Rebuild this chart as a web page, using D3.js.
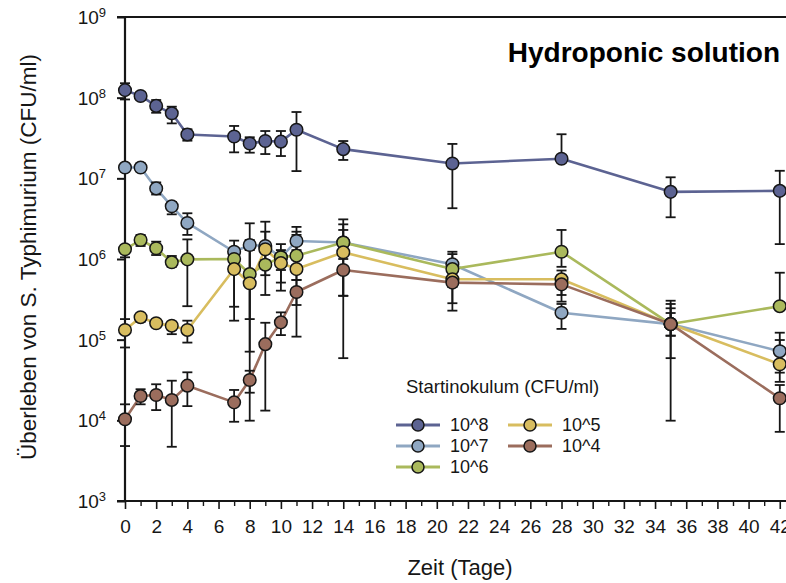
<!DOCTYPE html>
<html>
<head>
<meta charset="utf-8">
<script src="https://cdn.jsdelivr.net/npm/d3@7"></script>
<style>
  html, body { margin: 0; padding: 0; background: #fff; }
  svg { display: block; font-family: "Liberation Sans", Arial, sans-serif; }
</style>
</head>
<body>
<svg id="chart" width="786" height="583"></svg>
<script>
// Sampling days
const days = [0, 1, 2, 3, 4, 7, 8, 9, 10, 11, 14, 21, 28, 35, 42];

// Start inoculum 10^8
const mean8 = [1.24e8, 1.05e8, 7.9e7, 6.4e7, 3.5e7, 3.3e7, 2.7e7, 2.9e7, 2.85e7, 4.0e7, 2.3e7, 1.53e7, 1.75e7, 6.8e6, 7.0e6];
const hi8   = [1.51e8, 1.05e8, 9.35e7, 7.73e7, 4.06e7, 4.46e7, 3.23e7, 3.86e7, 3.86e7, 6.64e7, 2.9e7, 2.67e7, 3.52e7, 1.03e7, 1.24e7];
const lo8   = [9.5e7, 1.05e8, 6.5e7, 4.8e7, 2.93e7, 2.1e7, 2.08e7, 2.0e7, 1.89e7, 1.23e7, 1.69e7, 4.26e6, 1.75e7, 3.29e6, 1.53e6];

// Start inoculum 10^7
const mean7 = [1.36e7, 1.36e7, 7.5e6, 4.5e6, 2.8e6, 1.23e6, 1.49e6, 1.45e6, 1.05e6, 1.67e6, 1.6e6, 8.6e5, 2.16e5, 1.56e5, 7.2e4];
const hi7   = [1.45e7, 1.53e7, 8.9e6, 5.1e6, 3.69e6, 1.36e6, 1.72e6, 2.18e6, 1.18e6, 2.5e6, 3.1e6, 1.23e6, 2.77e5, 2.77e5, 1.22e5];
const lo7   = [1.28e7, 1.24e7, 6.3e6, 3.58e6, 1.99e6, 1.0e6, 7.1e4, 9.7e5, 5.1e5, 1.29e6, 3.5e5, 5.5e5, 1.36e5, 1.12e5, 3.9e4];

// Start inoculum 10^6
const mean6 = [1.32e6, 1.72e6, 1.36e6, 9.1e5, 9.9e5, 1.0e6, 6.5e5, 8.5e5, 1.05e6, 1.1e6, 1.6e6, 7.5e5, 1.23e6, 1.56e5, 2.6e5];
const hi6   = [1.49e6, 1.99e6, 1.64e6, 1.09e6, 1.75e6, 1.69e6, 1.29e6, 1.53e6, 1.53e6, 2.18e6, 2.69e6, 1.15e6, 2.29e6, 3.04e5, 6.76e5];
const lo6   = [1.05e6, 1.45e6, 1.12e6, 8.0e5, 2.6e5, 2.56e5, 1.8e5, 6.3e5, 7.3e5, 5.5e5, 1.0e6, 4.5e5, 8.0e5, 5.9e4, 2.6e5];

// Start inoculum 10^5
const mean5 = [1.32e5, 1.9e5, 1.6e5, 1.49e5, 1.32e5, 7.5e5, 5.0e5, 1.32e6, 8.9e5, 7.5e5, 1.21e6, 5.6e5, 5.6e5, 1.56e5, 4.96e4];
const hi5   = [1.8e5, 2.02e5, 1.65e5, 1.67e5, 1.72e5, 1.37e6, 2.77e6, 2.9e6, 1.29e6, 1.99e6, 2.29e6, 7.0e5, 7.2e5, 2.45e5, 9.9e4];
const lo5   = [8.0e4, 1.67e5, 1.55e5, 1.17e5, 9.2e4, 1.72e5, 9.9e3, 3.58e5, 4.05e5, 2.69e5, 3.5e5, 2.83e5, 3.58e5, 1.12e5, 3.0e4];

// Start inoculum 10^4
const mean4 = [1.03e4, 2.0e4, 2.06e4, 1.79e4, 2.69e4, 1.67e4, 3.16e4, 8.8e4, 1.64e5, 3.9e5, 7.3e5, 5.1e5, 4.85e5, 1.56e5, 1.88e4];
const hi4   = [1.58e4, 2.43e4, 2.8e4, 3.1e4, 3.94e4, 2.38e4, 4.12e4, 1.62e5, 2.18e5, 5.5e5, 1.3e6, 7.0e5, 6.2e5, 2.14e5, 2.74e4];
const lo4   = [4.8e3, 1.58e4, 1.34e4, 4.7e3, 1.5e4, 9.6e3, 2.2e4, 1.32e4, 1.14e5, 1.09e5, 5.9e4, 2.29e5, 2.96e5, 9.9e3, 7.2e3];

const seriesLabels = ["10^8", "10^7", "10^6", "10^5", "10^4"];
const seriesColors = ["#5c6392", "#8fa7c2", "#aab95c", "#d8bd5f", "#9b6d5d"];
const xTickValues = d3.range(0, 43, 2);
const xMinorValues = d3.range(1, 43, 2);
const yTickValues = [1e3, 1e4, 1e5, 1e6, 1e7, 1e8, 1e9];

const titleText = "Hydroponic solution";
const yTitle = "Überleben von S. Typhimurium (CFU/ml)";
const xTitle = "Zeit (Tage)";
const legendTitle = "Startinokulum (CFU/ml)";

const series = [
  { label: seriesLabels[0], color: seriesColors[0], mean: mean8, hi: hi8, lo: lo8 },
  { label: seriesLabels[1], color: seriesColors[1], mean: mean7, hi: hi7, lo: lo7 },
  { label: seriesLabels[2], color: seriesColors[2], mean: mean6, hi: hi6, lo: lo6 },
  { label: seriesLabels[3], color: seriesColors[3], mean: mean5, hi: hi5, lo: lo5 },
  { label: seriesLabels[4], color: seriesColors[4], mean: mean4, hi: hi4, lo: lo4 }
];

const svg = d3.select("#chart");
const W = 786;
const x = d3.scaleLinear().domain([0, 42.4]).range([125, 786]);
const y = d3.scaleLog().domain([1e3, 1e9]).range([501, 17]);
const ink = "#161616";

// Axes
const gx = svg.append("g").attr("transform", `translate(0,${y(1e3)})`)
  .call(d3.axisBottom(x).tickValues(xTickValues).tickSize(8).tickPadding(11).tickSizeOuter(0));
gx.select(".domain").remove();
gx.selectAll(".tick line").attr("stroke", ink).attr("stroke-width", 1.6);
gx.selectAll(".tick text").attr("font-size", 19).attr("fill", ink)
  .attr("font-family", "Liberation Sans, Arial, sans-serif");

const gxm = svg.append("g").attr("transform", `translate(0,${y(1e3)})`)
  .call(d3.axisBottom(x).tickValues(xMinorValues).tickSize(5).tickFormat(""));
gxm.select(".domain").remove();
gxm.selectAll(".tick line").attr("stroke", ink).attr("stroke-width", 1.4);

const gy = svg.append("g").attr("transform", `translate(${x(0)},0)`)
  .call(d3.axisLeft(y).tickValues(yTickValues).tickSize(8).tickFormat(""));
gy.select(".domain").remove();
gy.selectAll(".tick line").attr("stroke", ink).attr("stroke-width", 2);
gy.selectAll(".tick").each(function (d) {
  const t = d3.select(this).append("text")
    .attr("x", -19).attr("dy", "0.35em").attr("text-anchor", "end")
    .attr("fill", ink).attr("font-size", 19)
    .attr("font-family", "Liberation Sans, Arial, sans-serif");
  t.append("tspan").text("10");
  t.append("tspan").attr("font-size", 13).attr("dy", "-0.55em").text(Math.round(Math.log10(d)));
});

// Frame lines: left axis, bottom axis, top border
svg.append("line").attr("x1", x(0)).attr("x2", x(0)).attr("y1", y(1e9)).attr("y2", y(1e3) + 1)
  .attr("stroke", ink).attr("stroke-width", 2.2);
svg.append("line").attr("x1", x(0) - 8).attr("x2", W).attr("y1", y(1e3)).attr("y2", y(1e3))
  .attr("stroke", ink).attr("stroke-width", 2.2);
svg.append("line").attr("x1", x(0) - 8).attr("x2", W).attr("y1", y(1e9)).attr("y2", y(1e9))
  .attr("stroke", ink).attr("stroke-width", 2.2);

// Series lines
const line = d3.line().x((d, i) => x(days[i])).y(d => y(d));
series.forEach(s => {
  svg.append("path").datum(s.mean).attr("d", line)
    .attr("fill", "none").attr("stroke", s.color).attr("stroke-width", 2.6)
    .attr("stroke-linejoin", "round");
});

// Error bars
const cap = 5;
series.forEach(s => {
  const g = svg.append("g").attr("stroke", ink).attr("stroke-width", 1.8);
  days.forEach((d, i) => {
    const cx = x(d);
    if (s.hi[i] > s.mean[i]) {
      g.append("line").attr("x1", cx).attr("x2", cx).attr("y1", y(s.mean[i])).attr("y2", y(s.hi[i]));
      g.append("line").attr("x1", cx - cap).attr("x2", cx + cap).attr("y1", y(s.hi[i])).attr("y2", y(s.hi[i]));
    }
    if (s.lo[i] < s.mean[i]) {
      g.append("line").attr("x1", cx).attr("x2", cx).attr("y1", y(s.mean[i])).attr("y2", y(s.lo[i]));
      g.append("line").attr("x1", cx - cap).attr("x2", cx + cap).attr("y1", y(s.lo[i])).attr("y2", y(s.lo[i]));
    }
  });
});

// Markers
series.forEach(s => {
  svg.append("g").selectAll("circle").data(s.mean).join("circle")
    .attr("cx", (d, i) => x(days[i])).attr("cy", d => y(d)).attr("r", 6.3)
    .attr("fill", s.color).attr("stroke", ink).attr("stroke-width", 1.5);
});

// Titles
svg.append("text").attr("x", 780).attr("y", 62).attr("text-anchor", "end")
  .attr("font-size", 28).attr("font-weight", "bold").attr("fill", "#000").text(titleText);

svg.append("text").attr("transform", `translate(36,257) rotate(-90)`)
  .attr("text-anchor", "middle").attr("font-size", 22.5).attr("fill", ink).text(yTitle);

svg.append("text").attr("x", 460).attr("y", 575).attr("text-anchor", "middle")
  .attr("font-size", 22).attr("fill", ink).text(xTitle);

// Legend
svg.append("text").attr("x", 406).attr("y", 393).attr("font-size", 18.5).attr("fill", ink).text(legendTitle);
const legendPos = [[396, 425], [396, 446], [396, 467], [508, 425], [508, 446]];
series.forEach((s, i) => {
  const [lx, ly] = legendPos[i];
  const g = svg.append("g");
  g.append("line").attr("x1", lx).attr("x2", lx + 44).attr("y1", ly).attr("y2", ly)
    .attr("stroke", s.color).attr("stroke-width", 3);
  g.append("circle").attr("cx", lx + 22).attr("cy", ly).attr("r", 6)
    .attr("fill", s.color).attr("stroke", ink).attr("stroke-width", 1.5);
  g.append("text").attr("x", lx + 54).attr("y", ly).attr("dy", "0.36em")
    .attr("font-size", 18).attr("fill", ink).text(s.label);
});
</script>
</body>
</html>
